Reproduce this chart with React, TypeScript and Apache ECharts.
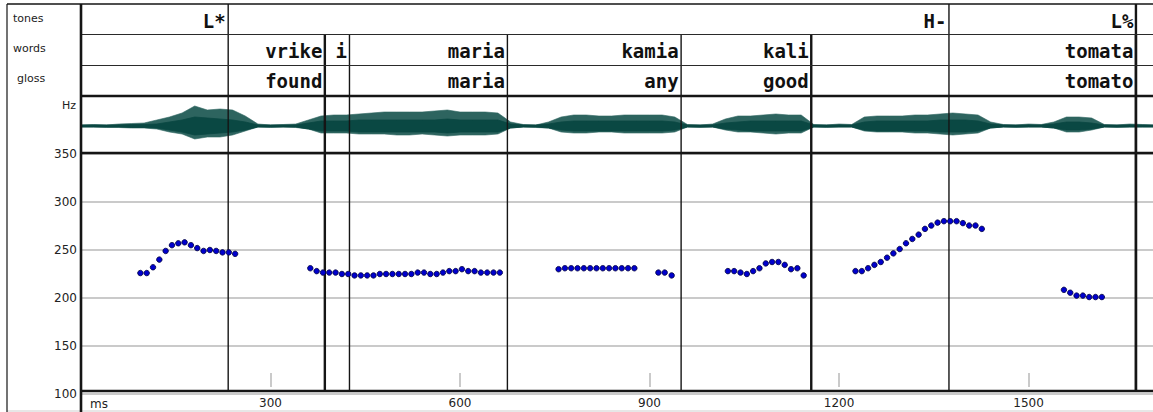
import React, { useEffect, useRef } from "react";
import * as echarts from "echarts";

// ---------- data ----------
const msMax = 1697;
const msTickInterval = 300;
const hzMin = 100;
const hzMax = 350;
const hzInterval = 50;

const toneLabels = ["L*", "H-", "L%"];
const toneEnds = [233, 1374, 1670];

const wordLabels = ["vrike", "i", "maria", "kamia", "kali", "tomata"];
const glossLabels = ["found", "", "maria", "any", "good", "tomato"];
const wordEnds = [386, 425, 675, 950, 1156, 1670];
const breakEnds = [386, 1156, 1670];

const waveMs = [
  0, 20, 40, 60, 80, 100, 120, 140, 160, 180, 200, 220, 240, 260, 280, 300, 320, 340, 360, 380,
  400, 420, 440, 460, 480, 500, 520, 540, 560, 580, 600, 620, 640, 660, 680, 700, 720, 740, 760, 780,
  800, 820, 840, 860, 880, 900, 920, 940, 960, 980, 1000, 1020, 1040, 1060, 1080, 1100, 1120, 1140, 1160, 1180,
  1200, 1220, 1240, 1260, 1280, 1300, 1320, 1340, 1360, 1380, 1400, 1420, 1440, 1460, 1480, 1500, 1520, 1540, 1560, 1580,
  1600, 1620, 1640, 1660, 1680, 1700,
];
// outer (spike) envelope, above and below the zero line
const waveUpper = [
  1, 1.5, 1, 2, 2.5, 3, 6, 9, 13, 20, 16, 17, 16, 10, 2, 1, 1.5, 2, 6, 10,
  11, 11, 12, 13, 14, 14, 14, 14, 15, 16, 14, 14, 14, 13, 4, 1.5, 1, 4, 9, 11,
  11, 10, 10, 11, 11, 11, 11, 9, 1.5, 1, 2, 7, 10, 10, 11, 12, 11, 11, 1.5, 1,
  2, 1.5, 9, 10, 10, 10, 11, 11, 12, 13, 12, 11, 4, 1.5, 1, 2, 1.5, 4, 9, 9,
  8, 1.5, 1, 2, 1.5, 1,
];
const waveLower = [
  1, 1, 1.5, 1.5, 2, 2, 3, 6, 8, 13, 11, 11, 9, 5, 1, 1.5, 1, 1.5, 3, 7,
  7, 7, 8, 8, 8, 9, 9, 8, 9, 10, 9, 9, 9, 8, 2, 1, 1.5, 2, 6, 7,
  7, 6, 6, 7, 7, 7, 7, 6, 1, 1.5, 1, 4, 6, 6, 7, 8, 7, 7, 1, 1.5,
  1, 1, 5, 6, 6, 6, 7, 7, 8, 9, 8, 7, 2, 1, 1.5, 1, 1, 2, 6, 6,
  4, 1, 1.5, 1, 1, 1,
];
// dense core of the waveform (half-width)
const waveCore = [
  1, 1, 1, 1, 1.5, 1.5, 2, 4, 6, 9, 8, 7, 6, 4, 1, 1, 1, 1, 3, 5,
  5, 5, 6, 6, 6, 6, 6, 6, 6, 7, 6, 6, 6, 6, 2, 1, 1, 2, 4, 5,
  5, 5, 5, 5, 5, 5, 5, 4, 1, 1, 1, 3, 4, 5, 5, 5, 5, 5, 1, 1,
  1, 1, 4, 5, 5, 5, 5, 5, 6, 6, 6, 5, 2, 1, 1, 1, 1, 2, 4, 4,
  3, 1, 1, 1, 1, 1,
];

const seg1Ms = [94, 104, 114, 124, 134, 144, 154, 164, 174, 184, 194, 204, 214, 224, 234, 244];
const seg1Hz = [226, 226, 232, 240, 249, 255, 257, 258, 255, 252, 249, 250, 249, 247.5, 247.5, 246];
const seg2Ms = [
  363, 373, 383, 393, 403, 413, 423, 433, 443, 453, 463, 473, 483, 493, 503, 513,
  523, 533, 543, 553, 563, 573, 583, 593, 603, 613, 623, 633, 643, 653, 663,
];
const seg2Hz = [
  231, 228, 226.5, 226.5, 226.5, 225, 225, 223.5, 223.5, 223.5, 223.5, 225, 225, 225, 225, 225,
  225, 226.5, 226.5, 225, 225, 226.5, 228, 228, 230, 228, 228, 226.5, 226.5, 226.5, 226.5,
];
const seg3Ms = [756, 766, 776, 786, 796, 806, 816, 826, 836, 846, 856, 866, 876];
const seg3Hz = [230, 231, 231, 231, 231, 231, 231, 231, 231, 231, 231, 231, 231];
const seg4Ms = [914, 924, 935];
const seg4Hz = [226.5, 226.5, 223.5];
const seg5Ms = [1024, 1034, 1044, 1054, 1064, 1074, 1084, 1094, 1104, 1114, 1124, 1134, 1144];
const seg5Hz = [228, 228, 226.5, 225, 228, 231, 236, 237.5, 237.5, 234.5, 230, 231, 223.5];
const seg6Ms = [
  1226, 1236, 1246, 1256, 1266, 1276, 1286, 1296, 1306, 1316, 1326,
  1336, 1346, 1356, 1366, 1376, 1386, 1396, 1406, 1416, 1426,
];
const seg6Hz = [
  228, 228, 231, 234.5, 237.5, 242, 246.5, 251, 257, 261.5, 266,
  272, 275.5, 278.5, 280, 280, 280, 278, 275.5, 275.5, 272,
];
const seg7Ms = [1556, 1566, 1576, 1586, 1596, 1606, 1616];
const seg7Hz = [208.5, 205.5, 202.5, 202.5, 201, 201, 201];

// ---------- layout ----------
const W = 1153;
const H = 412;
const FRAME_L = 7;
const PLOT_L = 81;
const Y_TOP = 4;
const Y_WORDS = 34.5;
const Y_GLOSS = 65.5;
const Y_WAVE = 96;
const Y_PLOT = 153;
const Y_BOTTOM = 391;
const Y_STRIP = 411;
const INK = "#151515";
const WAVE_DARK = "#0a4843";
const WAVE_LIGHT = "#2d645f";
const MONO = 'bold 19px "DejaVu Sans Mono"';
const SANS = '"DejaVu Sans"';

export default function App() {
  const ref = useRef<HTMLDivElement>(null);

  useEffect(() => {
    if (!ref.current) return;
    const chart = echarts.init(ref.current, undefined, { renderer: "svg" });

    const pitch: number[][] = [];
    [
      [seg1Ms, seg1Hz],
      [seg2Ms, seg2Hz],
      [seg3Ms, seg3Hz],
      [seg4Ms, seg4Hz],
      [seg5Ms, seg5Hz],
      [seg6Ms, seg6Hz],
      [seg7Ms, seg7Hz],
    ].forEach(([ms, hz]) => ms.forEach((t, i) => pitch.push([t, hz[i]])));

    const hLine = (x1: number, y: number, x2: number, w: number, c = INK) => ({
      type: "line",
      z: 20,
      silent: true,
      shape: { x1, y1: y, x2, y2: y },
      style: { stroke: c, lineWidth: w },
    });
    const vLine = (x: number, y1: number, y2: number, w: number, c = INK) => ({
      type: "line",
      z: 20,
      silent: true,
      shape: { x1: x, y1, x2: x, y2 },
      style: { stroke: c, lineWidth: w },
    });
    const label = (text: string, x: number, y: number, align: string, size: number) => ({
      type: "text",
      z: 20,
      silent: true,
      x,
      y,
      style: {
        text,
        align,
        verticalAlign: "middle",
        font: `${size}px ${SANS}`,
        fill: "#222",
      },
    });

    const tierSeries = (
      ends: number[],
      topY: number,
      rows: { y: number; texts: string[] }[]
    ) => ({
      type: "custom",
      xAxisIndex: 1,
      yAxisIndex: 1,
      z: 4,
      clip: false,
      silent: true,
      data: ends.map((t, i) => [t, hzMin, i]),
      renderItem: (params: any, api: any) => {
        const t = api.value(0);
        const i = params.dataIndex;
        const x = api.coord([t, hzMin])[0];
        const thick = breakEnds.indexOf(t) >= 0;
        const children: any[] = [
          {
            type: "line",
            shape: { x1: x, y1: topY, x2: x, y2: Y_BOTTOM },
            style: { stroke: INK, lineWidth: thick ? 2.4 : 1.4 },
          },
        ];
        rows.forEach((r) => {
          if (r.texts[i])
            children.push({
              type: "text",
              x: x - 2.5,
              y: r.y,
              style: {
                text: r.texts[i],
                align: "right",
                verticalAlign: "middle",
                font: MONO,
                fill: "#111",
              },
            });
        });
        return { type: "group", children };
      },
    });

    const option: any = {
      animation: false,
      backgroundColor: "#ffffff",
      grid: [
        { left: PLOT_L, top: Y_WAVE, width: W - PLOT_L, height: Y_PLOT - Y_WAVE, containLabel: false },
        { left: PLOT_L, top: 154, width: W - PLOT_L, height: 240, containLabel: false },
      ],
      xAxis: [
        { type: "value", gridIndex: 0, min: 0, max: msMax, show: false },
        {
          type: "value",
          gridIndex: 1,
          min: 0,
          max: msMax,
          interval: msTickInterval,
          offset: -7,
          axisLine: { show: false },
          axisTick: { show: true, inside: true, length: 14, lineStyle: { color: "#b9b9b9", width: 1.5 } },
          axisLabel: {
            margin: 10,
            fontSize: 12,
            fontFamily: "DejaVu Sans",
            color: "#222",
            showMaxLabel: false,
            formatter: (v: number) => (v === 0 ? "" : String(v)),
          },
          splitLine: { show: false },
        },
      ],
      yAxis: [
        { type: "value", gridIndex: 0, min: -27, max: 30, show: false },
        {
          type: "value",
          gridIndex: 1,
          min: hzMin,
          max: hzMax,
          interval: hzInterval,
          axisLine: { show: false },
          axisTick: { show: false },
          axisLabel: { margin: 4, fontSize: 12, fontFamily: "DejaVu Sans", color: "#222" },
          splitLine: { show: true, lineStyle: { color: "#b9b9b9", width: 1.5 } },
        },
      ],
      series: [
        {
          type: "custom",
          name: "waveform",
          xAxisIndex: 0,
          yAxisIndex: 0,
          z: 3,
          clip: false,
          silent: true,
          data: waveMs.map((t, i) => [t, waveUpper[i], waveLower[i], waveCore[i]]),
          renderItem: (params: any, api: any) => {
            // the whole waveform is one outline, drawn with the first item
            if (params.dataIndex !== 0) return { type: "group", children: [] };
            const band = (up: number[], lo: number[]) => {
              const top = waveMs.map((t, i) => api.coord([t, up[i]]));
              const bottom = waveMs.map((t, i) => api.coord([t, -lo[i]])).reverse();
              return top.concat(bottom);
            };
            return {
              type: "group",
              children: [
                {
                  type: "polygon",
                  shape: { points: band(waveUpper, waveLower) },
                  style: { fill: WAVE_LIGHT, stroke: WAVE_LIGHT, lineWidth: 0.6 },
                },
                {
                  type: "polygon",
                  shape: { points: band(waveCore, waveCore) },
                  style: { fill: WAVE_DARK, stroke: WAVE_DARK, lineWidth: 0.8 },
                },
              ],
            };
          },
        },
        tierSeries(toneEnds, Y_TOP, [{ y: 20.5, texts: toneLabels }]),
        tierSeries(wordEnds, Y_WORDS, [
          { y: 51, texts: wordLabels },
          { y: 81, texts: glossLabels },
        ]),
        {
          type: "scatter",
          name: "F0",
          xAxisIndex: 1,
          yAxisIndex: 1,
          z: 6,
          symbol: "circle",
          symbolSize: 5.5,
          itemStyle: { color: "#0000cc", borderColor: "#00003c", borderWidth: 0.8, opacity: 1 },
          data: pitch,
        },
      ],
      graphic: [
        hLine(FRAME_L, Y_TOP, W, 1.4),
        hLine(PLOT_L, Y_WORDS, W, 1.2, "#2a2a2a"),
        hLine(PLOT_L, Y_GLOSS, W, 1.2, "#2a2a2a"),
        hLine(PLOT_L, Y_WAVE, W, 2.4),
        hLine(PLOT_L, Y_PLOT, W, 2.4),
        hLine(PLOT_L, Y_BOTTOM, W, 2.6),
        hLine(FRAME_L, Y_STRIP, W, 1, "#cfcfcf"),
        vLine(FRAME_L, Y_TOP, H, 1.2),
        vLine(PLOT_L, Y_TOP, H, 2.6),
        label("tones", 13, 18, "left", 11),
        label("words", 13, 48, "left", 11),
        label("gloss", 17, 78, "left", 11),
        label("Hz", 76, 105, "right", 11),
        label("ms", 90, 404, "left", 12),
      ],
    };

    chart.setOption(option);
    return () => chart.dispose();
  }, []);

  return (
    <div
      ref={ref}
      style={{ position: "fixed", left: 0, top: 0, width: W, height: H, background: "#fff" }}
    />
  );
}
